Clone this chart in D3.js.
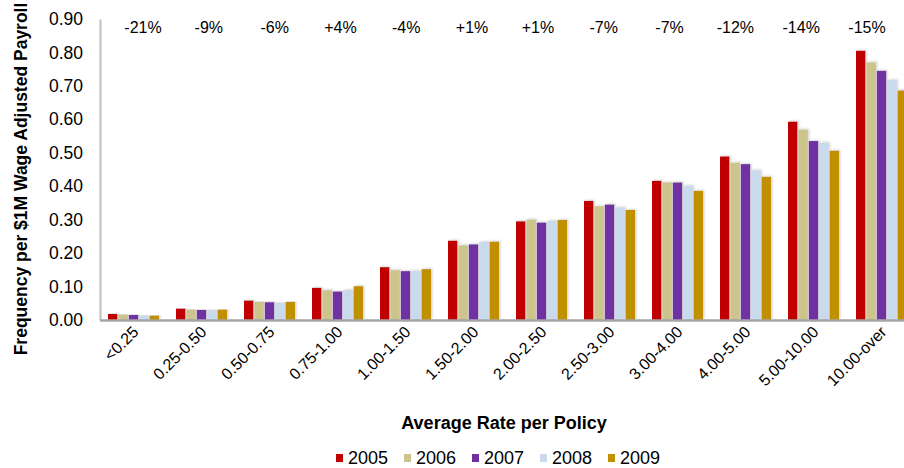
<!DOCTYPE html>
<html>
<head>
<meta charset="utf-8">
<script src="https://cdn.jsdelivr.net/npm/d3@7"></script>
<style>
  body { margin: 0; background: #fff; }
  text { font-family: "Liberation Sans", Arial, sans-serif; }
</style>
</head>
<body>
<div id="chart"></div>
<script>
const categories = ["<0.25", "0.25-0.50", "0.50-0.75", "0.75-1.00", "1.00-1.50", "1.50-2.00",
    "2.00-2.50", "2.50-3.00", "3.00-4.00", "4.00-5.00", "5.00-10.00", "10.00-over"];
const years = ["2005", "2006", "2007", "2008", "2009"];
const v2005 = [0.018, 0.034, 0.058, 0.096, 0.158, 0.237, 0.295, 0.356, 0.416, 0.489, 0.593, 0.805];
const v2006 = [0.016, 0.031, 0.054, 0.089, 0.149, 0.223, 0.300, 0.340, 0.411, 0.470, 0.569, 0.770];
const v2007 = [0.015, 0.030, 0.053, 0.085, 0.146, 0.226, 0.291, 0.345, 0.411, 0.466, 0.535, 0.745];
const v2008 = [0.013, 0.029, 0.051, 0.089, 0.146, 0.233, 0.296, 0.336, 0.401, 0.447, 0.530, 0.717];
const v2009 = [0.013, 0.031, 0.054, 0.101, 0.152, 0.234, 0.299, 0.329, 0.386, 0.428, 0.506, 0.686];
const changes = ["-21%", "-9%", "-6%", "+4%", "-4%", "+1%", "+1%", "-7%", "-7%", "-12%", "-14%", "-15%"];
const yTicks = [0, 0.1, 0.2, 0.3, 0.4, 0.5, 0.6, 0.7, 0.8, 0.9];
const colors = ["#C00000", "#CCC48A", "#7030A0", "#C9DAEC", "#C09000"];

const series = [v2005, v2006, v2007, v2008, v2009];
const data = categories.map((c, i) => ({
    cat: c,
    vals: years.map((y, j) => ({ year: y, value: series[j][i] }))
}));

const width = 904, height = 468;
const margin = { left: 100, bottom: 320, top: 19 };

const svg = d3.select("#chart").append("svg")
    .attr("width", width)
    .attr("height", height);

const defs = svg.append("defs");
defs.append("filter").attr("id", "shadow")
    .attr("x", "-20%").attr("y", "-5%").attr("width", "150%").attr("height", "110%")
  .append("feDropShadow")
    .attr("dx", 1.5).attr("dy", -1)
    .attr("stdDeviation", 0.8)
    .attr("flood-color", "#888")
    .attr("flood-opacity", 0.35);

const x0 = d3.scaleBand()
    .domain(categories)
    .range([margin.left - 0.5, margin.left - 0.5 + 68 * 12])
    .paddingInner(0.25)
    .paddingOuter(0.125);

const x1 = d3.scaleBand()
    .domain(years)
    .range([0, x0.bandwidth()])
    .paddingInner(0.1);

const yScale = d3.scaleLinear()
    .domain([0, 0.9])
    .range([margin.bottom, margin.top]);

// y axis
const yAxis = d3.axisLeft(yScale)
    .tickValues(yTicks)
    .tickFormat(d3.format(".2f"))
    .tickSize(0)
    .tickPadding(17);

const yg = svg.append("g")
    .attr("transform", `translate(${margin.left},0)`)
    .call(yAxis);
yg.select(".domain").attr("stroke", "#BFBFBF").attr("stroke-width", 2);
yg.selectAll("text")
    .attr("font-size", 17.5)
    .attr("fill", "#000")
    .attr("font-family", "Liberation Sans, Arial, sans-serif");

// bars
const groups = svg.append("g").selectAll("g")
    .data(data)
    .enter()
  .append("g")
    .attr("transform", d => `translate(${x0(d.cat)},0)`);

groups.selectAll("rect")
    .data(d => d.vals)
    .enter()
  .append("rect")
    .attr("x", d => x1(d.year))
    .attr("y", d => yScale(d.value))
    .attr("width", x1.bandwidth())
    .attr("height", d => yScale(0) - yScale(d.value))
    .attr("fill", (d, i) => colors[i])
    .attr("filter", "url(#shadow)");

// x axis
const xAxis = d3.axisBottom(x0)
    .tickSize(0)
    .tickPadding(0)
    .tickSizeOuter(0);

const xg = svg.append("g")
    .attr("transform", `translate(0,${margin.bottom})`)
    .call(xAxis);
xg.select(".domain").attr("stroke", "#A6A6A6").attr("stroke-width", 2.5);
xg.selectAll("text")
    .attr("font-size", 16)
    .attr("fill", "#000")
    .attr("font-family", "Liberation Sans, Arial, sans-serif")
    .attr("text-anchor", "end")
    .attr("dy", null)
    .attr("y", 0)
    .attr("transform", "translate(6,13) rotate(-45)");

// percent change labels
const xp = d3.scalePoint()
    .domain(categories)
    .range([143, 867]);

svg.append("g").selectAll("text")
    .data(categories)
    .enter()
  .append("text")
    .attr("x", d => xp(d))
    .attr("y", 33)
    .attr("text-anchor", "middle")
    .attr("font-size", 16)
    .text((d, i) => changes[i]);

// axis titles
svg.append("text")
    .attr("transform", "translate(27,179) rotate(-90)")
    .attr("text-anchor", "middle")
    .attr("font-size", 17.5)
    .attr("font-weight", "bold")
    .text("Frequency per $1M Wage Adjusted Payroll");

svg.append("text")
    .attr("x", 504)
    .attr("y", 429)
    .attr("text-anchor", "middle")
    .attr("font-size", 18)
    .attr("font-weight", "bold")
    .text("Average Rate per Policy");

// legend
const legend = svg.append("g").selectAll("g")
    .data(years)
    .enter()
  .append("g")
    .attr("transform", (d, i) => `translate(${336 + i * 68},0)`);

legend.append("rect")
    .attr("x", 0)
    .attr("y", 454)
    .attr("width", 7)
    .attr("height", 8)
    .attr("fill", (d, i) => colors[i]);

legend.append("text")
    .attr("x", 12)
    .attr("y", 464)
    .attr("font-size", 18)
    .text(d => d);
</script>
</body>
</html>
